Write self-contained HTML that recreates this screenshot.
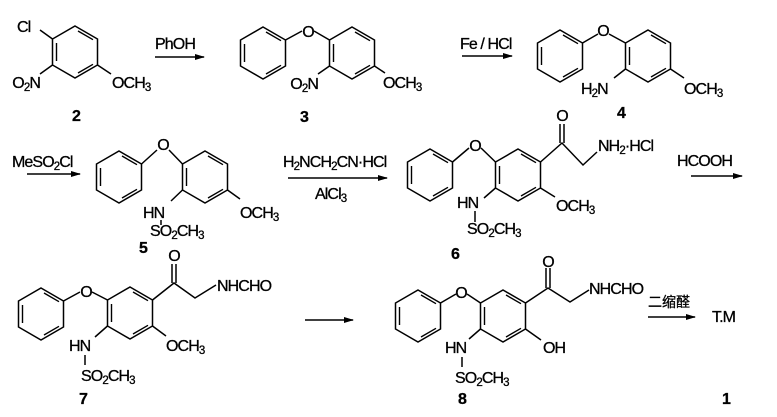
<!DOCTYPE html>
<html><head><meta charset="utf-8"><style>
html,body{margin:0;padding:0;background:#fff;}
svg{display:block;}
text{font-family:"Liberation Sans","Noto Sans CJK SC",sans-serif;font-size:16px;letter-spacing:-0.9px;fill:#000;stroke:#000;stroke-width:0.3px;}
.b{font-weight:bold;font-size:16px;}
.s{font-size:11.5px;}
</style></head><body>
<svg width="777" height="417" viewBox="0 0 777 417" xmlns="http://www.w3.org/2000/svg">
<defs>
<symbol id="r" overflow="visible">
<path d="M0,-26 L22.5,-13 L22.5,13 L0,26 L-22.5,13 L-22.5,-13Z" fill="none" stroke="#000" stroke-width="1.5"/>
<path d="M3,-21 L18,-12.3 M18,12.3 L3,21 M-18.5,9 L-18.5,-9" fill="none" stroke="#000" stroke-width="1.4"/>
</symbol>
<marker id="ah" markerWidth="10" markerHeight="8" refX="9" refY="4" orient="auto" markerUnits="userSpaceOnUse">
<path d="M0,1 L10,4 L0,7Z" fill="#000"/>
</marker>
</defs>
<g stroke="#000" stroke-width="1.5" fill="none">
<use href="#r" x="75" y="52"/>
<path d="M52.5,39 L40,30 M52.5,65 L40,74 M97.5,65 L111,74"/>
<path d="M155,57 L204,57" marker-end="url(#ah)"/>
<path d="M462,56 L512,56" marker-end="url(#ah)"/>
<path d="M27,174 L80,174" marker-end="url(#ah)"/>
<path d="M288,178 L387,178" marker-end="url(#ah)"/>
<path d="M691,176 L742,176" marker-end="url(#ah)"/>
<path d="M305,320 L353,320" marker-end="url(#ah)"/>
<path d="M648,317 L695,317" marker-end="url(#ah)"/>
<use href="#r" x="263" y="53"/>
<use href="#r" x="352" y="53"/>
<path d="M285.5,40 L302,31 M314,31 L329.5,40 M329.5,66 L318,74 M374.5,66 L385,73"/>
<use href="#r" x="560" y="56"/>
<use href="#r" x="648" y="56"/>
<path d="M582.5,43 L598,34 M609,34 L625.5,43 M625.5,69 L614,78 M670.5,69 L684,78"/>
<use href="#r" x="119" y="177"/>
<use href="#r" x="205" y="177"/>
<path d="M141.5,164 L157,150 M169,150 L182.5,164 M182.5,190 L171,201 M161,220 L161,225 M227.5,190 L240,199"/>
<use href="#r" x="430" y="175"/>
<use href="#r" x="518" y="175"/>
<path d="M452.5,162 L469,148 M481,148 L495.5,162 M540.5,162 L562,143 L583,165 L597,152 M560,124 L560,143 M564,124 L564,143 M495.5,188 L484,198 M475,211 L475,222 M540.5,188 L555,197"/>
<use href="#r" x="41" y="314"/>
<use href="#r" x="130" y="313"/>
<path d="M63.5,301 L80,292 M92,292 L107.5,300 M152.5,300 L174,283 L195,298 L216,285 M172,264 L172,283 M176,264 L176,283 M107.5,326 L95,337 M85,355 L85,365 M152.5,326 L166,336"/>
<use href="#r" x="418" y="316"/>
<use href="#r" x="503" y="316"/>
<path d="M440.5,303 L456,294 M467,294 L480.5,303 M525.5,303 L548,288 L570,302 L589,290 M546,268 L546,288 M550,268 L550,288 M480.5,329 L469,339 M462,357 L462,367 M525.5,329 L541,340"/>
</g>
<text x="17" y="32">Cl</text>
<text x="40" y="88" text-anchor="end">O<tspan class="s" dy="3">2</tspan><tspan dy="-3">N</tspan></text>
<text x="112" y="88">OCH<tspan class="s" dy="3">3</tspan></text>
<text x="72" y="121" class="b">2</text>
<text x="155" y="49">PhOH</text>

<text x="308" y="37" text-anchor="middle">O</text>
<text x="318" y="89" text-anchor="end">O<tspan class="s" dy="3">2</tspan><tspan dy="-3">N</tspan></text>
<text x="383" y="88">OCH<tspan class="s" dy="3">3</tspan></text>
<text x="300" y="122" class="b">3</text>
<text x="460" y="49">Fe / HCl</text>

<text x="603" y="36" text-anchor="middle">O</text>
<text x="581" y="94">H<tspan class="s" dy="3">2</tspan><tspan dy="-3">N</tspan></text>
<text x="684" y="94">OCH<tspan class="s" dy="3">3</tspan></text>
<text x="617" y="118" class="b">4</text>

<text x="12" y="167">MeSO<tspan class="s" dy="3">2</tspan><tspan dy="-3">Cl</tspan></text>
<text x="163" y="150" text-anchor="middle">O</text>
<text x="143" y="218">HN</text>
<text x="150" y="236">SO<tspan class="s" dy="3">2</tspan><tspan dy="-3">CH</tspan><tspan class="s" dy="3">3</tspan></text>
<text x="240" y="218">OCH<tspan class="s" dy="3">3</tspan></text>
<text x="139" y="253" class="b">5</text>
<text x="283" y="167">H<tspan class="s" dy="3">2</tspan><tspan dy="-3">NCH</tspan><tspan class="s" dy="3">2</tspan><tspan dy="-3">CN·HCl</tspan></text>
<text x="315" y="199">AlCl<tspan class="s" dy="3">3</tspan></text>

<text x="475" y="151" text-anchor="middle">O</text>
<text x="562" y="121" text-anchor="middle">O</text>
<text x="598" y="151">NH<tspan class="s" dy="3">2</tspan><tspan dy="-3">·HCl</tspan></text>
<text x="457" y="208">HN</text>
<text x="467" y="234">SO<tspan class="s" dy="3">2</tspan><tspan dy="-3">CH</tspan><tspan class="s" dy="3">3</tspan></text>
<text x="556" y="211">OCH<tspan class="s" dy="3">3</tspan></text>
<text x="451" y="259" class="b">6</text>
<text x="677" y="166">HCOOH</text>

<text x="86" y="297" text-anchor="middle">O</text>
<text x="174" y="261" text-anchor="middle">O</text>
<text x="217" y="291">NHCHO</text>
<text x="69" y="351">HN</text>
<text x="81" y="381">SO<tspan class="s" dy="3">2</tspan><tspan dy="-3">CH</tspan><tspan class="s" dy="3">3</tspan></text>
<text x="166" y="351">OCH<tspan class="s" dy="3">3</tspan></text>
<text x="79" y="404" class="b">7</text>

<text x="461" y="298" text-anchor="middle">O</text>
<text x="548" y="267" text-anchor="middle">O</text>
<text x="589" y="294">NHCHO</text>
<text x="543" y="353">OH</text>
<text x="445" y="353">HN</text>
<text x="455" y="383">SO<tspan class="s" dy="3">2</tspan><tspan dy="-3">CH</tspan><tspan class="s" dy="3">3</tspan></text>
<text x="458" y="404" class="b">8</text>
<text x="648" y="307" style="font-size:14px;letter-spacing:0">二缩醛</text>
<text x="712" y="322">T.M</text>
<text x="722" y="404" class="b">1</text>
</svg>
</body></html>
